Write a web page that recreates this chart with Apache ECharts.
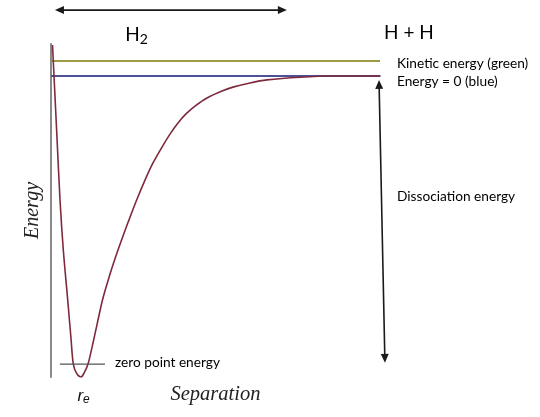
<!DOCTYPE html>
<html><head><meta charset="utf-8">
<script src="https://cdn.jsdelivr.net/npm/echarts@6/dist/echarts.min.js"></script>
<style>html,body{margin:0;background:#fff}#c{width:540px;height:417px}</style>
</head><body><div id="c"></div>
<script>
// Potential-energy curve (arbitrary units: dissociation energy = 10)
const separation = [0.046,0.100,0.180,0.274,0.374,0.508,0.608,0.678,0.775,0.912,1.000,1.125,1.250,1.400,1.565,1.760,1.955,2.150,2.340,2.600,2.857,3.100,3.374,3.617,3.860,4.103,4.377,4.742,5.198,5.532,6.049,6.565,7.568,8.571,10.0];
const energy     = [1.03,-0.19,-2.00,-4.12,-5.78,-7.44,-8.72,-9.57,-9.87,-10.0,-9.88,-9.57,-9.00,-8.25,-7.44,-6.70,-6.04,-5.43,-4.87,-4.13,-3.46,-2.89,-2.36,-1.93,-1.56,-1.26,-1.00,-0.73,-0.50,-0.37,-0.23,-0.13,-0.04,0,0];
const kineticLevel = 0.5;      // green line
const zeroLevel = 0;           // blue line
const zeroPointEnergy = -9.57; // zpe level
const zpeSpan = [0.27, 1.64];
const rEquilibrium = 0.90;
const h2Span = [0.12, 7.17];   // extent of H2 region arrow
const h2ArrowLevel = 2.19;
const h2LabelX = 2.6;
const dissocArrowTop = [9.97, -0.13];
const dissocArrowBottom = [10.15, -9.53];
const xRange = [0, 10];
const yRange = [-10, 1.063];

const chart = echarts.init(document.getElementById('c'));
const curveData = separation.map((x, i) => [x, energy[i]]);
chart.setOption({
  animation: false,
  grid: {left: 51, right: 160, top: 44, bottom: 40},
  xAxis: {type: 'value', min: xRange[0], max: xRange[1],
    axisLine: {show: true, lineStyle: {color: '#8a8a8a', width: 2}},
    axisTick: {show: false}, axisLabel: {show: false}, splitLine: {show: false},
    name: 'Separation', nameLocation: 'middle', nameGap: 8,
    nameTextStyle: {fontFamily: 'Liberation Serif', fontStyle: 'italic', fontSize: 20.5, color: '#222', verticalAlign: 'top'}},
  yAxis: {type: 'value', min: yRange[0], max: yRange[1],
    axisLine: {show: true, lineStyle: {color: '#8a8a8a', width: 2}},
    axisTick: {show: false}, axisLabel: {show: false}, splitLine: {show: false},
    name: 'Energy', nameLocation: 'middle', nameGap: 8, nameRotate: 90,
    nameTextStyle: {fontFamily: 'Liberation Serif', fontStyle: 'italic', fontSize: 20, color: '#222', verticalAlign: 'bottom'}},
  series: [
    {type: 'line', data: [[xRange[0], kineticLevel], [xRange[1], kineticLevel]], symbol: 'none',
     lineStyle: {color: '#9d9a45', width: 2}},
    {type: 'line', data: [[xRange[0], zeroLevel], [xRange[1], zeroLevel]], symbol: 'none',
     lineStyle: {color: '#4f5196', width: 2}},
    {type: 'line', data: curveData, symbol: 'none', smooth: 0.3,
     lineStyle: {color: '#7e2a3c', width: 1.6}},
    {type: 'line', data: [[zpeSpan[0], zeroPointEnergy], [zpeSpan[1], zeroPointEnergy]], symbol: 'none',
     lineStyle: {color: '#555', width: 1.3}}
  ]
});

function px(p) { return chart.convertToPixel({gridIndex: 0}, p); }
function arrow(a, b, color) {
  const dx = b[0] - a[0], dy = b[1] - a[1];
  const len = Math.hypot(dx, dy), ux = dx / len, uy = dy / len;
  const hl = 9, hw = 4;
  const head = (tip, dir) => ({type: 'polygon', shape: {points: [
      tip,
      [tip[0] - dir[0] * hl - dir[1] * hw, tip[1] - dir[1] * hl + dir[0] * hw],
      [tip[0] - dir[0] * hl + dir[1] * hw, tip[1] - dir[1] * hl - dir[0] * hw]]},
    style: {fill: color}});
  return [
    {type: 'line', shape: {x1: a[0] + ux * 6, y1: a[1] + uy * 6, x2: b[0] - ux * 6, y2: b[1] - uy * 6},
     style: {stroke: color, lineWidth: 1.6}},
    head(b, [ux, uy]), head(a, [-ux, -uy])
  ];
}
const sans = 'Lato';
const rightEdge = px([xRange[1], 0])[0];
const g = [];
g.push(...arrow(px([h2Span[0], h2ArrowLevel]), px([h2Span[1], h2ArrowLevel]), '#1a1a1a'));
g.push(...arrow(px(dissocArrowTop), px(dissocArrowBottom), '#1a1a1a'));
const kin = px([xRange[1], kineticLevel]);
const zer = px([xRange[1], zeroLevel]);
const dis = px([xRange[1], -4]);
const zpeEnd = px([zpeSpan[1], zeroPointEnergy]);
const re = px([rEquilibrium, yRange[0]]);
const h2 = px([h2LabelX, h2ArrowLevel]);
const txt = (x, y, t, extra) => Object.assign({type: 'text', x, y,
  style: Object.assign({text: t, fontFamily: sans, fontSize: 13.7, fill: '#000', textVerticalAlign: 'middle'}, extra || {})});
g.push(txt(kin[0] + 17, kin[1] + 3, 'Kinetic energy (green)'));
g.push(txt(zer[0] + 17, zer[1] + 6, 'Energy = 0 (blue)'));
g.push(txt(dis[0] + 17, dis[1], 'Dissociation energy'));
g.push(txt(zpeEnd[0] + 10, zpeEnd[1] - 1, 'zero point energy'));
g.push(txt(rightEdge + 29, 33, 'H + H', {fontSize: 19, textAlign: 'center'}));
g.push(txt(h2[0], h2[1] + 25, '{a|H}{b|2}', {textAlign: 'center', rich: {
  a: {fontFamily: sans, fontSize: 19, fill: '#000'},
  b: {fontFamily: sans, fontSize: 14, fill: '#000', padding: [8, 0, 0, 0]}}}));
g.push(txt(re[0] + 3, re[1] + 19, '{a|r}{b|e}', {textAlign: 'center', rich: {
  a: {fontFamily: 'Liberation Sans', fontStyle: 'italic', fontSize: 17, fill: '#111'},
  b: {fontFamily: 'Liberation Sans', fontStyle: 'italic', fontSize: 12, fill: '#111', padding: [8, 0, 0, 0]}}}));
chart.setOption({graphic: g});
</script></body></html>
